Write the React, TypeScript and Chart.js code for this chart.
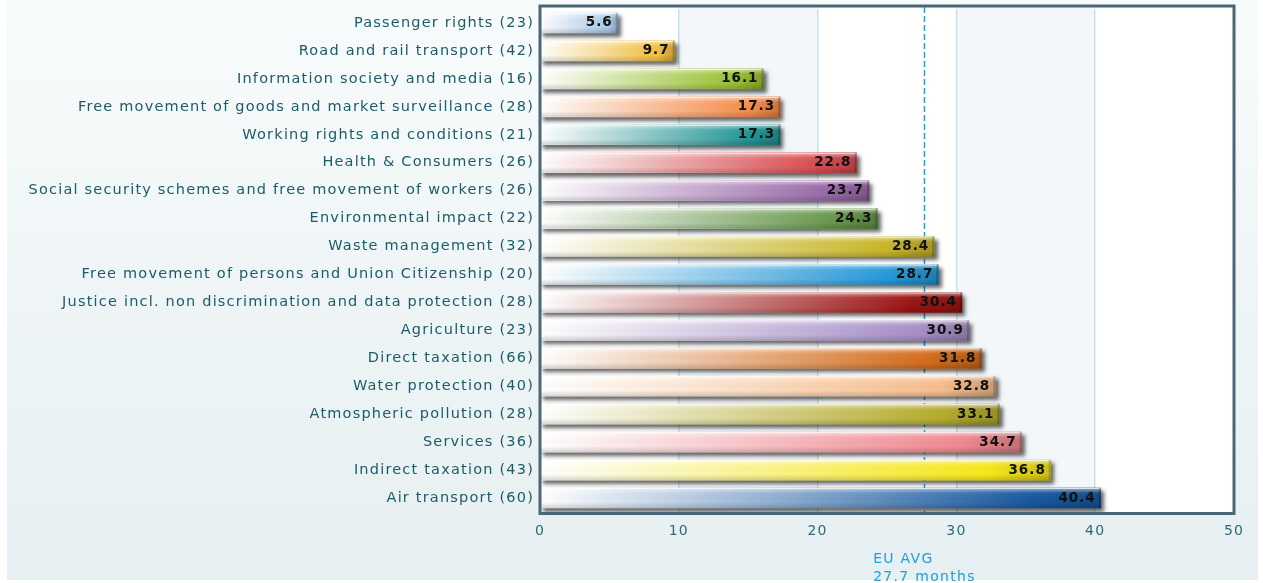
import React, { useEffect, useRef } from 'react';
import { Chart, registerables } from 'chart.js';

Chart.register(...registerables);

const topics = [
  'Passenger rights',
  'Road and rail transport',
  'Information society and media',
  'Free movement of goods and market surveillance',
  'Working rights and conditions',
  'Health & Consumers',
  'Social security schemes and free movement of workers',
  'Environmental impact',
  'Waste management',
  'Free movement of persons and Union Citizenship',
  'Justice incl. non discrimination and data protection',
  'Agriculture',
  'Direct taxation',
  'Water protection',
  'Atmospheric pollution',
  'Services',
  'Indirect taxation',
  'Air transport',
];

const caseCounts = [23, 42, 16, 28, 21, 26, 26, 22, 32, 20, 28, 23, 66, 40, 28, 36, 43, 60];

const avgMonths = [5.6, 9.7, 16.1, 17.3, 17.3, 22.8, 23.7, 24.3, 28.4, 28.7, 30.4, 30.9, 31.8, 32.8, 33.1, 34.7, 36.8, 40.4];

const barColors = [
  '#a8c8e8', '#f2c040', '#98c030', '#f58c4a', '#229494', '#d84c50',
  '#9868a8', '#66964a', '#c8b628', '#2498d8', '#9c1414', '#a890c8',
  '#d46c1c', '#f8be8e', '#b4ac2c', '#f08890', '#f8e818', '#1858a0',
];

const euAverage = 27.7;
const euAvgLines = ['EU AVG', '27.7 months'];

const axisMin = 0;
const axisMax = 50;
const axisStep = 10;

const FONT = '"DejaVu Sans", Verdana, sans-serif';

function shade(hex: string, f: number) {
  const n = parseInt(hex.slice(1), 16);
  const r = Math.round(((n >> 16) & 255) * f);
  const g = Math.round(((n >> 8) & 255) * f);
  const b = Math.round((n & 255) * f);
  return `rgb(${r},${g},${b})`;
}

export default function App() {
  const ref = useRef<HTMLCanvasElement>(null);

  useEffect(() => {
    document.body.style.margin = '0';
    const canvas = ref.current;
    if (!canvas) return;

    const setSpacing = (chart: any, sp = '1.2px') => {
      try { (chart.ctx as any).letterSpacing = sp; } catch (e) {}
    };

    const decor = {
      id: 'decor',
      beforeUpdate(chart: any) { setSpacing(chart); },
      beforeLayout(chart: any) { setSpacing(chart); },
      beforeDraw(chart: any) {
        setSpacing(chart);
        const { ctx, chartArea: a, scales } = chart;
        const x = scales.x;
        ctx.save();
        const g = ctx.createLinearGradient(0, 0, 0, 580);
        g.addColorStop(0, '#f8fbfc');
        g.addColorStop(1, '#e6eff1');
        ctx.fillStyle = g;
        ctx.fillRect(7, 0, 1251, 580);
        ctx.fillStyle = '#ffffff';
        ctx.fillRect(a.left, a.top - 2, a.right - a.left, a.bottom - a.top + 2);
        ctx.fillStyle = '#f3f7f9';
        for (let v = axisMin + axisStep; v < axisMax; v += 2 * axisStep) {
          const x0 = x.getPixelForValue(v);
          const x1 = x.getPixelForValue(v + axisStep);
          ctx.fillRect(x0, a.top - 2, x1 - x0, a.bottom - a.top + 2);
        }
        ctx.restore();
      },
      beforeDatasetsDraw(chart: any) {
        const { ctx, chartArea: a, scales } = chart;
        const xp = scales.x.getPixelForValue(euAverage);
        ctx.save();
        ctx.strokeStyle = '#1aa3db';
        ctx.lineWidth = 1.5;
        ctx.setLineDash([6, 3]);
        ctx.beginPath();
        ctx.moveTo(xp, a.top - 2);
        ctx.lineTo(xp, a.bottom);
        ctx.stroke();
        ctx.restore();
      },
      beforeDatasetDraw(chart: any) {
        const ctx = chart.ctx;
        ctx.save();
        ctx.shadowColor = 'rgba(0,0,0,0.6)';
        ctx.shadowOffsetX = 3;
        ctx.shadowOffsetY = 3.5;
        ctx.shadowBlur = 4;
      },
      afterDatasetDraw(chart: any) {
        chart.ctx.restore();
      },
      afterDatasetsDraw(chart: any) {
        const { ctx, chartArea: a } = chart;
        const meta = chart.getDatasetMeta(0);
        ctx.save();
        meta.data.forEach((el: any, i: number) => {
          const p = el.getProps(['x', 'y', 'base', 'height'], true);
          const top = p.y - p.height / 2;
          const w = p.x - p.base;
          const vg = ctx.createLinearGradient(0, top, 0, top + p.height);
          vg.addColorStop(0, 'rgba(255,255,255,0.55)');
          vg.addColorStop(0.25, 'rgba(255,255,255,0.05)');
          vg.addColorStop(0.7, 'rgba(0,0,0,0)');
          vg.addColorStop(1, 'rgba(0,0,0,0.16)');
          ctx.fillStyle = vg;
          ctx.fillRect(p.base, top, w, p.height);
          ctx.fillStyle = 'rgba(255,255,255,0.7)';
          ctx.fillRect(p.base, top, w, 1);
          ctx.fillStyle = 'rgba(0,0,0,0.2)';
          ctx.fillRect(p.x - 2, top, 2, p.height);
          (ctx as any).letterSpacing = '1px';
          ctx.font = 'bold 13.5px ' + FONT;
          ctx.fillStyle = '#111111';
          ctx.textAlign = 'right';
          ctx.textBaseline = 'middle';
          ctx.fillText(avgMonths[i].toFixed(1), p.x - 5, p.y);
        });
        ctx.restore();
        ctx.save();
        ctx.strokeStyle = '#4b6676';
        ctx.lineWidth = 3;
        ctx.strokeRect(a.left, a.top - 3, a.right - a.left, a.bottom - a.top + 4.5);
        ctx.restore();
      },
      afterDraw(chart: any) {
        const { ctx, scales } = chart;
        const xp = scales.x.getPixelForValue(euAverage);
        ctx.save();
        (ctx as any).letterSpacing = '1.3px';
        ctx.font = '14px ' + FONT;
        ctx.fillStyle = '#1ea0d6';
        ctx.textAlign = 'left';
        ctx.textBaseline = 'middle';
        const widest = Math.max(...euAvgLines.map((t) => ctx.measureText(t).width));
        const left = xp - widest / 2;
        euAvgLines.forEach((t, i) => {
          ctx.fillText(t, left, 559 + i * 18);
        });
        ctx.restore();
      },
    };

    const labels = topics.map((t, i) => `${t} (${caseCounts[i]})`);

    const chart = new Chart(canvas, {
      type: 'bar',
      data: {
        labels,
        datasets: [
          {
            data: avgMonths,
            barThickness: 20,
            borderWidth: 0,
            backgroundColor: (c: any) => {
              const chartRef = c.chart;
              const i = c.dataIndex;
              const color = barColors[i] || '#888888';
              const xs = chartRef.scales && chartRef.scales.x;
              if (!chartRef.chartArea || !xs || i === undefined) return color;
              const x0 = xs.getPixelForValue(axisMin);
              const x1 = xs.getPixelForValue(avgMonths[i]);
              if (!isFinite(x0) || !isFinite(x1) || x1 <= x0) return color;
              const g = chartRef.ctx.createLinearGradient(x0, 0, x1, 0);
              g.addColorStop(0, '#ffffff');
              g.addColorStop(0.88, color);
              g.addColorStop(1, shade(color, 0.82));
              return g;
            },
          },
        ],
      },
      options: {
        indexAxis: 'y',
        responsive: false,
        animation: false,
        devicePixelRatio: 1,
        layout: { padding: { top: 9, right: 29, bottom: 0, left: 0 } },
        plugins: {
          legend: { display: false },
          tooltip: { enabled: false },
        },
        scales: {
          x: {
            min: axisMin,
            max: axisMax,
            ticks: {
              stepSize: axisStep,
              color: '#2a6c78',
              font: { family: FONT, size: 14 },
              padding: 11,
            },
            grid: {
              color: '#c5e3ea',
              lineWidth: 1.5,
              drawTicks: false,
            },
            border: { display: false },
            afterFit: (s: any) => { s.height = 71; },
          },
          y: {
            ticks: {
              color: '#1a5c68',
              font: { family: FONT, size: 14.5 },
              padding: 6,
              autoSkip: false,
            },
            grid: { display: false, drawTicks: false },
            border: { display: false },
            afterFit: (s: any) => {
              s.width = 540;
              s.paddingTop = 0;
              s.paddingBottom = 0;
            },
          },
        },
      },
      plugins: [decor],
    });

    return () => chart.destroy();
  }, []);

  return (
    <div style={{ width: 1263, height: 583, background: '#ffffff' }}>
      <canvas ref={ref} width={1263} height={583} style={{ display: 'block' }} />
    </div>
  );
}
